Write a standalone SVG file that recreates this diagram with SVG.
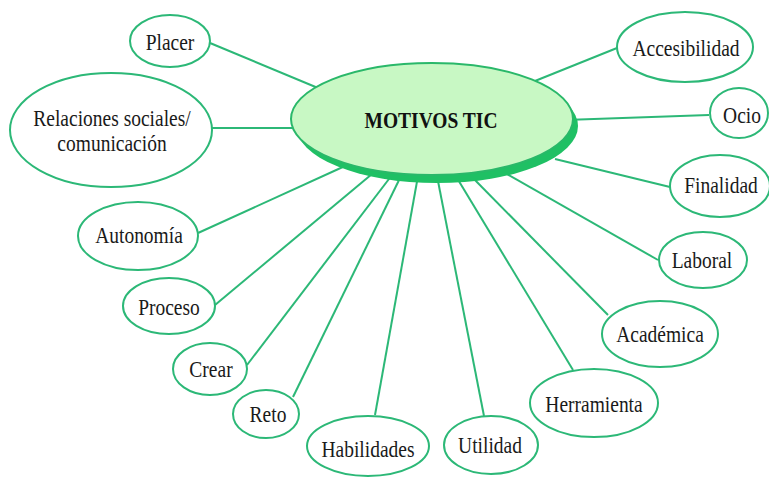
<svg xmlns="http://www.w3.org/2000/svg" width="769" height="479" viewBox="0 0 769 479">
<style>
.node{fill:#ffffff;stroke:#2cb877;stroke-width:2}
.lbl{font-family:"Liberation Serif","Times New Roman",serif;font-size:19.5px;fill:#1a1a1a;text-anchor:middle}
.ttl{font-family:"Liberation Serif","Times New Roman",serif;font-size:19.5px;font-weight:bold;fill:#111111;text-anchor:middle}
.conn line{stroke:#2cb877;stroke-width:2}
</style>
<rect width="769" height="479" fill="#ffffff"/>
<g id="connectors" class="conn">
<line x1="210" y1="43" x2="330" y2="93"/>
<line x1="212" y1="128" x2="310" y2="128"/>
<line x1="617" y1="48" x2="525" y2="85"/>
<line x1="709" y1="115" x2="565" y2="120"/>
<line x1="670" y1="187" x2="555" y2="159"/>
<line x1="658" y1="260" x2="505" y2="173"/>
<line x1="608" y1="315" x2="472" y2="177"/>
<line x1="573" y1="370" x2="457" y2="178"/>
<line x1="484" y1="416" x2="437" y2="176"/>
<line x1="375" y1="415" x2="418" y2="176"/>
<line x1="293" y1="397" x2="401" y2="176"/>
<line x1="247" y1="365" x2="392" y2="175"/>
<line x1="215" y1="305" x2="372" y2="174"/>
<line x1="198" y1="233" x2="345" y2="166"/>
</g>
<g id="center">
<ellipse cx="437" cy="126" rx="141" ry="57" fill="#1fc064"/>
<ellipse cx="432" cy="119" rx="141" ry="56" fill="#c8f8c4" stroke="#2ab86a" stroke-width="2"/>
<text class="ttl" transform="translate(431,128) scale(1,1.15)">MOTIVOS TIC</text>
</g>
<g id="placer"><ellipse class="node" cx="170" cy="41" rx="40" ry="26"/><text class="lbl" transform="translate(170,50) scale(1,1.2)">Placer</text></g>
<g id="relaciones"><ellipse class="node" cx="111" cy="130" rx="101" ry="57"/><text class="lbl" transform="translate(112,126) scale(1,1.2)">Relaciones sociales/</text><text class="lbl" transform="translate(112,151) scale(1,1.2)">comunicación</text></g>
<g id="autonomia"><ellipse class="node" cx="138" cy="236" rx="60" ry="34"/><text class="lbl" transform="translate(139,243) scale(1,1.2)">Autonomía</text></g>
<g id="proceso"><ellipse class="node" cx="169" cy="306" rx="46" ry="28"/><text class="lbl" transform="translate(169,315) scale(1,1.2)">Proceso</text></g>
<g id="crear"><ellipse class="node" cx="210" cy="369" rx="37" ry="26"/><text class="lbl" transform="translate(211,377) scale(1,1.2)">Crear</text></g>
<g id="reto"><ellipse class="node" cx="266" cy="414" rx="33" ry="24"/><text class="lbl" transform="translate(268,422) scale(1,1.2)">Reto</text></g>
<g id="habilidades"><ellipse class="node" cx="368" cy="446" rx="61" ry="30"/><text class="lbl" transform="translate(368,457) scale(1,1.2)">Habilidades</text></g>
<g id="utilidad"><ellipse class="node" cx="491" cy="445" rx="47" ry="29"/><text class="lbl" transform="translate(490,453) scale(1,1.2)">Utilidad</text></g>
<g id="herramienta"><ellipse class="node" cx="594" cy="403" rx="64" ry="34"/><text class="lbl" transform="translate(594,412) scale(1,1.2)">Herramienta</text></g>
<g id="academica"><ellipse class="node" cx="660" cy="334" rx="58" ry="33"/><text class="lbl" transform="translate(660,342) scale(1,1.2)">Académica</text></g>
<g id="laboral"><ellipse class="node" cx="703" cy="260" rx="44" ry="28"/><text class="lbl" transform="translate(702,268) scale(1,1.2)">Laboral</text></g>
<g id="finalidad"><ellipse class="node" cx="720" cy="186" rx="50" ry="31"/><text class="lbl" transform="translate(721,193) scale(1,1.2)">Finalidad</text></g>
<g id="ocio"><ellipse class="node" cx="739" cy="113" rx="29" ry="25"/><text class="lbl" transform="translate(742,123) scale(1,1.2)">Ocio</text></g>
<g id="accesibilidad"><ellipse class="node" cx="685" cy="47" rx="68" ry="35"/><text class="lbl" transform="translate(686,56) scale(1,1.2)">Accesibilidad</text></g>
</svg>
